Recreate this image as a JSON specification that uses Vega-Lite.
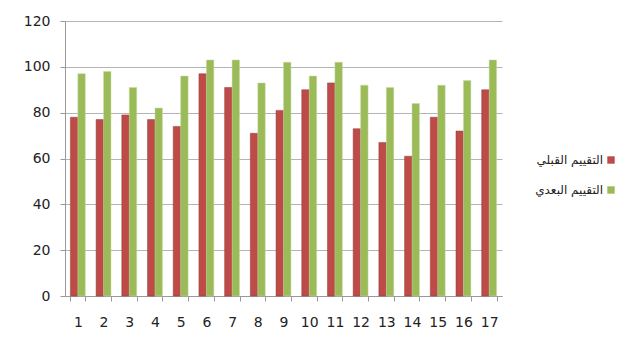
{
  "$schema": "https://vega.github.io/schema/vega-lite/v6.json",
  "width": 437,
  "height": 275,
  "autosize": "none",
  "padding": {"left": 65, "top": 21, "right": 138, "bottom": 59},
  "background": "white",
  "data": {"values": [
    {"n": 1, "s": "التقييم القبلي", "v": 78}, {"n": 1, "s": "التقييم البعدي", "v": 97},
    {"n": 2, "s": "التقييم القبلي", "v": 77}, {"n": 2, "s": "التقييم البعدي", "v": 98},
    {"n": 3, "s": "التقييم القبلي", "v": 79}, {"n": 3, "s": "التقييم البعدي", "v": 91},
    {"n": 4, "s": "التقييم القبلي", "v": 77}, {"n": 4, "s": "التقييم البعدي", "v": 82},
    {"n": 5, "s": "التقييم القبلي", "v": 74}, {"n": 5, "s": "التقييم البعدي", "v": 96},
    {"n": 6, "s": "التقييم القبلي", "v": 97}, {"n": 6, "s": "التقييم البعدي", "v": 103},
    {"n": 7, "s": "التقييم القبلي", "v": 91}, {"n": 7, "s": "التقييم البعدي", "v": 103},
    {"n": 8, "s": "التقييم القبلي", "v": 71}, {"n": 8, "s": "التقييم البعدي", "v": 93},
    {"n": 9, "s": "التقييم القبلي", "v": 81}, {"n": 9, "s": "التقييم البعدي", "v": 102},
    {"n": 10, "s": "التقييم القبلي", "v": 90}, {"n": 10, "s": "التقييم البعدي", "v": 96},
    {"n": 11, "s": "التقييم القبلي", "v": 93}, {"n": 11, "s": "التقييم البعدي", "v": 102},
    {"n": 12, "s": "التقييم القبلي", "v": 73}, {"n": 12, "s": "التقييم البعدي", "v": 92},
    {"n": 13, "s": "التقييم القبلي", "v": 67}, {"n": 13, "s": "التقييم البعدي", "v": 91},
    {"n": 14, "s": "التقييم القبلي", "v": 61}, {"n": 14, "s": "التقييم البعدي", "v": 84},
    {"n": 15, "s": "التقييم القبلي", "v": 78}, {"n": 15, "s": "التقييم البعدي", "v": 92},
    {"n": 16, "s": "التقييم القبلي", "v": 72}, {"n": 16, "s": "التقييم البعدي", "v": 94},
    {"n": 17, "s": "التقييم القبلي", "v": 90}, {"n": 17, "s": "التقييم البعدي", "v": 103}
  ]},
  "mark": {"type": "bar", "strokeWidth": 0.8, "strokeOpacity": 0.6},
  "encoding": {
    "x": {
      "field": "n", "type": "ordinal",
      "scale": {"paddingInner": 0.42, "paddingOuter": 0.21},
      "axis": {
        "title": null, "labelAngle": 0, "labelFont": "DejaVu Sans", "labelFontSize": 14,
        "labelColor": "#222222", "labelPadding": 14, "tickBand": "extent", "tickSize": 5,
        "tickColor": "#999999", "domainColor": "#999999", "grid": false
      }
    },
    "xOffset": {"field": "s", "sort": ["التقييم القبلي", "التقييم البعدي"]},
    "y": {
      "field": "v", "type": "quantitative",
      "scale": {"domain": [0, 120], "nice": false},
      "axis": {
        "title": null, "values": [0, 20, 40, 60, 80, 100, 120], "labelFont": "DejaVu Sans",
        "labelFontSize": 14, "labelColor": "#222222", "labelPadding": 10, "tickSize": 5,
        "tickColor": "#999999", "domainColor": "#999999", "gridColor": "#b4b4b4"
      }
    },
    "color": {
      "field": "s", "type": "nominal",
      "scale": {"domain": ["التقييم القبلي", "التقييم البعدي"], "range": ["#BE4B48", "#9BBB59"]},
      "legend": {
        "title": null, "orient": "none", "legendX": 540, "legendY": 133, "labelFont": "DejaVu Sans", "labelFontSize": 12,
        "labelColor": "#222222", "symbolType": "square", "symbolSize": 55, "symbolStrokeWidth": 0,
        "labelAlign": "right", "labelOffset": -14, "rowPadding": 18
      }
    },
    "stroke": {
      "field": "s", "type": "nominal", "legend": null,
      "scale": {"domain": ["التقييم القبلي", "التقييم البعدي"], "range": ["#8C3836", "#c9dba3"]}
    }
  },
  "config": {"view": {"stroke": null}}
}
